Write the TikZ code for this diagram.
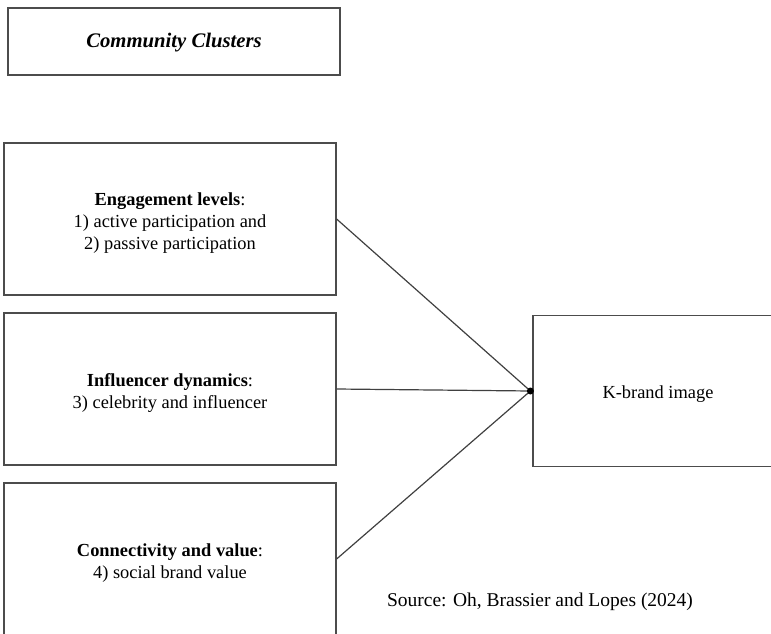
\documentclass[tikz,border=0pt]{standalone}
\usepackage{fontspec}
\setmainfont{Liberation Serif}
\usetikzlibrary{arrows.meta}
\tikzset{
  box/.style={draw=black!70, line width=1.2pt, rectangle, inner sep=0pt},
  txt/.style={align=center, inner sep=0pt, font=\fontsize{18.4}{22}\selectfont},
  conn/.style={draw=black!75, line width=1.2pt},
}
\begin{document}
\begin{tikzpicture}[x=1pt,y=-1pt]
\useasboundingbox (0,0) rectangle (771,634);
\clip (0,0) rectangle (771,634);
\node[box, minimum width=332pt, minimum height=67pt] (cc) at (174,41.5) {};
\node[txt, font=\fontsize{20.7}{22}\selectfont] (cct) at (174,43) {\textbf{\textit{Community Clusters}}};
\node[box, minimum width=332pt, minimum height=152pt] (b1) at (170,219) {};
\node[txt] (b1t) at (170,223) {\textbf{Engagement levels}:\\1) active participation and\\2) passive participation};
\node[box, minimum width=332pt, minimum height=152pt] (b2) at (170,389) {};
\node[txt] (b2t) at (170,393) {\textbf{Influencer dynamics}:\\3) celebrity and influencer};
\node[box, minimum width=332pt, minimum height=152pt] (b3) at (170,559) {};
\node[txt] (b3t) at (170,563) {\textbf{Connectivity and value}:\\4) social brand value};
\node[box, minimum width=250pt, minimum height=151pt] (k) at (658,391) {};
\node[txt] (kt) at (658,394) {K-brand image};
\coordinate (j) at ([xshift=-2pt]k.west);
\draw[conn] (b1.east) -- (j);
\draw[conn] (b2.east) -- (j);
\draw[conn] (b3.east) -- (j);
\fill[black] (j) circle (3.5pt);
\node[txt, font=\fontsize{19.5}{22}\selectfont] (src) at (540,602) {Source: Oh, Brassier and Lopes (2024)};
\end{tikzpicture}
\end{document}
